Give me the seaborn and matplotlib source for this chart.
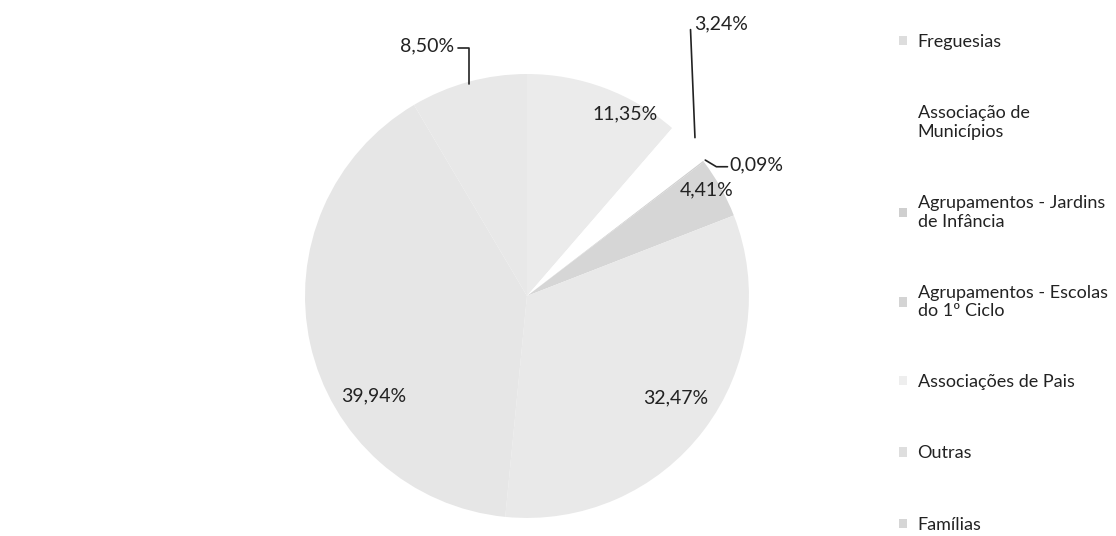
import numpy as np
import matplotlib
matplotlib.use("Agg")
import matplotlib.pyplot as plt
import seaborn as sns

# dados do gráfico (ordem do Excel, sentido horário a partir do topo)
categorias = ["Freguesias", "Associação de\nMunicípios", "Agrupamentos - Jardins\nde Infância",
              "Agrupamentos - Escolas\ndo 1º Ciclo", "Associações de Pais", "Outras", "Famílias"]
valores = [11.35, 3.24, 0.09, 4.41, 32.47, 39.94, 8.50]
rotulos = ["11,35%", "3,24%", "0,09%", "4,41%", "32,47%", "39,94%", "8,50%"]
cores = ["#ebebeb", "#ffffff", "#cfcfcf", "#d6d6d6", "#e9e9e9", "#e6e6e6", "#e8e8e8"]
cores_legenda = ["#dddddd", "#ffffff", "#cfcfcf", "#d4d4d4", "#eeeeee", "#dedede", "#d6d6d6"]

sns.set_theme(style="white")
plt.rcParams['font.family'] = ['Lato', 'DejaVu Sans']

fig = plt.figure(figsize=(11.16, 5.36), dpi=100)
ax = fig.add_axes([0.2733, 0.0336, 0.3978, 0.8284])
wedges, _ = ax.pie(valores, colors=cores, startangle=90, counterclock=False,
                   radius=1, wedgeprops=dict(linewidth=0))
ax.set_xlim(-1, 1)
ax.set_ylim(-1, 1)
ax.set_aspect('equal')
ax.axis('off')

fs = 14
cor_txt = '#222222'
# rótulos dentro das fatias
dentro = {0: (0.44, 0.82), 3: (0.81, 0.48), 4: (0.67, -0.46), 5: (-0.69, -0.45)}
for i, (x, y) in dentro.items():
    ax.text(x, y, rotulos[i], ha='center', va='center', fontsize=fs, color=cor_txt)


def ponto_borda(w, r=1.0):
    ang = np.deg2rad((w.theta1 + w.theta2) / 2)
    return r * np.cos(ang), r * np.sin(ang)


# rótulos com linhas de chamada
kw = dict(color=cor_txt, lw=1.2, clip_on=False)
# Famílias
bx, by = ponto_borda(wedges[6], 0.99)
ax.plot([bx, bx, bx - 0.05], [by, 1.115, 1.115], **kw)
ax.text(bx - 0.065, 1.125, rotulos[6], ha='right', va='center', fontsize=fs, color=cor_txt)
# Associação de Municípios
bx, by = ponto_borda(wedges[1], 1.04)
ax.plot([bx, bx - 0.02], [by, 1.2], **kw)
ax.text(bx - 0.005, 1.225, rotulos[1], ha='left', va='center', fontsize=fs, color=cor_txt)
# Jardins de Infância
bx, by = ponto_borda(wedges[2], 1.01)
ax.plot([bx, bx + 0.05, bx + 0.1], [by, by - 0.03, by - 0.03], **kw)
ax.text(bx + 0.11, by - 0.02, rotulos[2], ha='left', va='center', fontsize=fs, color=cor_txt)

# legenda
handles = [plt.Rectangle((0, 0), 1, 1, facecolor=c, edgecolor='none') for c in cores_legenda]
leg = fig.legend(handles, categorias, loc='upper left', bbox_to_anchor=(0.806, 0.936),
                 frameon=False, fontsize=13, labelspacing=3.05, handlelength=0.4,
                 handleheight=0.4, handletextpad=0.6, borderaxespad=0, borderpad=0)
for t in leg.get_texts():
    t.set_color(cor_txt)

fig.savefig("out.png", dpi=100, facecolor='white')
